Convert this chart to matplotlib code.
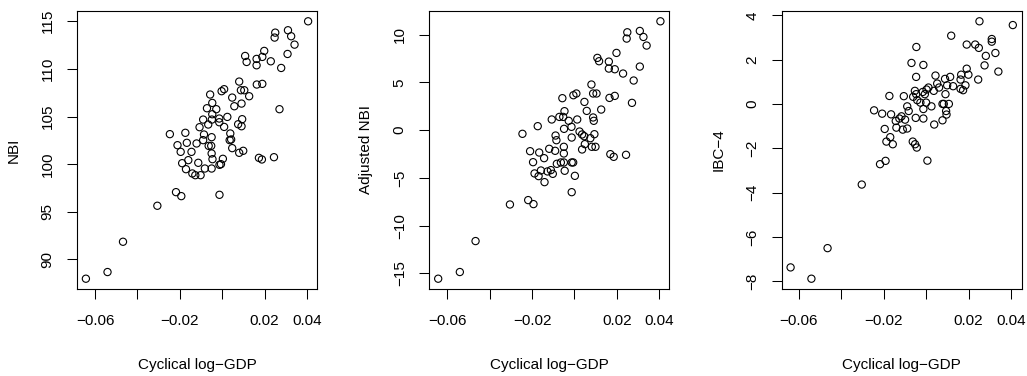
import numpy as np
import matplotlib
matplotlib.use("Agg")
import matplotlib.pyplot as plt

plt.rcParams['font.family'] = ['Liberation Sans', 'DejaVu Sans']

# panel 1: NBI
gdp_nbi = [0.0405, 0.0250, 0.0247, 0.0310, 0.0325, 0.0341, 0.0308, 0.0278, 0.0229, 0.0198,
           0.0189, 0.0162, 0.0162, 0.0108, 0.0115, 0.0163, 0.0189, 0.0080, 0.0088, 0.0104,
           0.0127, -0.0003, 0.0009, 0.0047, 0.0057, 0.0091, 0.0270, -0.0057, -0.0047, -0.0072,
           -0.0028, -0.0047, -0.0090, -0.0066, -0.0049, -0.0014, -0.0014, 0.0024, 0.0009, -0.0107,
           0.0094, 0.0075, 0.0091, -0.0247, -0.0174, -0.0086, 0.0038, -0.0090, -0.0050, -0.0167,
           -0.0121, -0.0211, -0.0064, -0.0052, 0.0035, 0.0042, 0.0047, -0.0196, -0.0145, -0.0050,
           0.0080, 0.0099, -0.0160, -0.0046, 0.0003, -0.0189, -0.0113, -0.0013, -0.0006, -0.0171,
           -0.0082, -0.0050, -0.0141, -0.0127, -0.0102, 0.0173, 0.0187, 0.0244, -0.0218, -0.0193,
           -0.0013, -0.0306, -0.0468, -0.0541, -0.0643]
nbi = [115.00, 113.81, 113.29, 114.06, 113.43, 112.55, 111.57, 110.10, 110.80, 111.89,
       111.26, 111.05, 110.38, 111.36, 110.73, 108.36, 108.43, 108.67, 107.76, 107.76,
       107.13, 107.66, 107.87, 106.99, 106.08, 106.36, 105.77, 107.31, 106.43, 105.87,
       105.77, 105.24, 104.68, 104.16, 104.68, 104.79, 104.40, 104.96, 103.91, 103.88,
       104.72, 104.19, 103.98, 103.15, 103.29, 103.11, 103.22, 102.52, 102.83, 102.24,
       102.17, 101.99, 101.92, 101.92, 102.52, 102.59, 101.68, 101.29, 101.29, 101.12,
       101.19, 101.40, 100.42, 100.52, 100.56, 100.10, 100.14, 99.93, 100.00, 99.47,
       99.54, 99.54, 99.02, 98.84, 98.84, 100.66, 100.49, 100.73, 97.06, 96.64,
       96.78, 95.63, 91.85, 88.67, 87.97]

# panel 2: Adjusted NBI
gdp_adj = [0.0405, 0.0249, 0.0246, 0.0308, 0.0325, 0.0340, 0.0308, 0.0279, 0.0271, 0.0198,
           0.0162, 0.0162, 0.0190, 0.0229, 0.0108, 0.0116, 0.0080, 0.0088, 0.0104, 0.0165,
           0.0190, -0.0005, 0.0009, -0.0057, 0.0047, 0.0058, 0.0126, -0.0047, -0.0071, -0.0053,
           -0.0107, -0.0027, 0.0013, 0.0088, 0.0091, -0.0173, -0.0049, -0.0014, -0.0245, -0.0089,
           -0.0085, -0.0013, 0.0024, 0.0036, 0.0046, 0.0094, 0.0075, -0.0050, 0.0049, 0.0082,
           0.0099, 0.0036, -0.0119, -0.0091, -0.0209, -0.0166, -0.0050, -0.0143, -0.0195, -0.0083,
           -0.0064, -0.0050, -0.0013, -0.0006, -0.0158, -0.0127, -0.0111, -0.0046, -0.0188, -0.0169,
           -0.0102, 0.0002, -0.0141, 0.0169, 0.0185, 0.0243, -0.0013, -0.0304, -0.0218, -0.0193,
           -0.0466, -0.0540, -0.0642]
adj_nbi = [11.40, 10.25, 9.59, 10.39, 9.76, 8.86, 6.66, 5.20, 2.86, 8.09,
           7.18, 6.45, 6.38, 5.93, 7.57, 7.22, 4.78, 3.84, 3.84, 3.38,
           3.59, 3.66, 3.84, 3.35, 2.96, 2.02, 2.16, 1.99, 1.39, 1.39,
           1.12, 0.98, 1.12, 1.33, 0.98, 0.42, 0.14, 0.35, -0.38, -0.56,
           -1.05, -0.77, -0.14, -0.45, -0.63, -0.42, -0.84, -1.74, -1.46, -1.74,
           -1.74, -2.02, -1.95, -2.16, -2.20, -2.34, -2.44, -2.93, -3.35, -3.52,
           -3.38, -3.38, -3.38, -3.38, -4.22, -4.32, -4.18, -4.25, -4.53, -4.81,
           -4.57, -4.78, -5.44, -2.51, -2.79, -2.58, -6.49, -7.78, -7.32, -7.74,
           -11.61, -14.85, -15.55]

# panel 3: IBC-4
gdp_ibc = [0.0408, 0.0251, 0.0309, 0.0309, 0.0326, 0.0281, 0.0340, 0.0275, 0.0231, 0.0248,
           0.0191, 0.0118, -0.0046, -0.0069, -0.0013, -0.0047, 0.0245, 0.0191, 0.0199, 0.0165,
           0.0162, 0.0185, 0.0162, 0.0174, 0.0113, 0.0089, 0.0044, 0.0099, 0.0127, 0.0052,
           0.0061, 0.0036, 0.0011, 0.0002, -0.0016, -0.0053, -0.0047, -0.0061, -0.0006, -0.0173,
           -0.0105, 0.0091, 0.0077, 0.0083, 0.0107, -0.0042, -0.0027, 0.0000, 0.0025, -0.0013,
           -0.0089, -0.0082, -0.0245, -0.0207, -0.0165, 0.0094, 0.0096, 0.0077, -0.0013, -0.0049,
           -0.0116, -0.0126, -0.0099, -0.0143, -0.0140, -0.0110, -0.0089, 0.0038, -0.0195, -0.0169,
           -0.0187, -0.0157, -0.0063, -0.0052, -0.0044, -0.0217, -0.0191, 0.0006, -0.0303, -0.0464,
           -0.0638, -0.0540]
ibc4 = [3.56, 3.73, 2.93, 2.81, 2.30, 2.17, 1.46, 1.74, 2.68, 2.53,
        2.68, 3.08, 2.57, 1.85, 1.76, 1.22, 1.10, 1.59, 1.32, 1.32,
        1.10, 0.84, 0.68, 0.62, 1.22, 1.13, 1.28, 0.84, 0.80, 0.92,
        0.74, 0.59, 0.74, 0.65, 0.54, 0.59, 0.44, 0.32, 0.44, 0.36,
        0.35, 0.44, 0.00, 0.00, 0.00, 0.17, 0.06, 0.06, -0.11, -0.23,
        -0.11, -0.32, -0.29, -0.44, -0.47, -0.32, -0.48, -0.74, -0.66, -0.63,
        -0.56, -0.66, -0.71, -0.77, -1.07, -1.16, -1.11, -0.93, -1.13, -1.50,
        -1.70, -1.82, -1.70, -1.82, -1.97, -2.72, -2.57, -2.56, -3.64, -6.51,
        -7.38, -7.89]

x_ticks = [-0.06, -0.04, -0.02, 0.0, 0.02, 0.04]
x_ticklabels = ["\u22120.06", "", "\u22120.02", "", "0.02", "0.04"]
x_title = "Cyclical log\u2212GDP"

panels = [
	(gdp_nbi, nbi, "NBI", [90, 95, 100, 105, 110, 115]),
	(gdp_adj, adj_nbi, "Adjusted NBI", [-15, -10, -5, 0, 5, 10]),
	(gdp_ibc, ibc4, "IBC\u22124", [-8, -6, -4, -2, 0, 2, 4]),
]

fig = plt.figure(figsize=(10.27, 3.76), dpi=100)
lefts = [77, 429.3, 781.7]

for i, (x, y, ylab, yt) in enumerate(panels):
	ax = fig.add_axes([lefts[i] / 1027, 1 - 289 / 376, 240 / 1027, 278 / 376])
	ax.scatter(x, y, s=27, facecolors='none', edgecolors='black', linewidths=0.8)
	ax.margins(0.04)
	ax.set_xticks(x_ticks)
	ax.set_xticklabels(x_ticklabels)
	ax.set_yticks(yt)
	ax.set_yticklabels([str(v).replace("-", "\u2212") for v in yt], rotation=90, va='center')
	ax.tick_params(direction='out', length=7.2, width=0.75, labelsize=11, colors='black')
	ax.tick_params(axis='x', pad=11)
	ax.tick_params(axis='y', pad=9)
	for sp in ax.spines.values():
		sp.set_linewidth(0.8)
	ax.set_xlabel(x_title, fontsize=11)
	ax.xaxis.set_label_coords(0.5, -0.273)
	ax.xaxis.label.set_va('center')
	ax.set_ylabel(ylab, fontsize=11)
	ax.yaxis.set_label_coords(-0.2625, 0.5)
	ax.yaxis.label.set_va('center')

fig.savefig("out.png", dpi=100)
